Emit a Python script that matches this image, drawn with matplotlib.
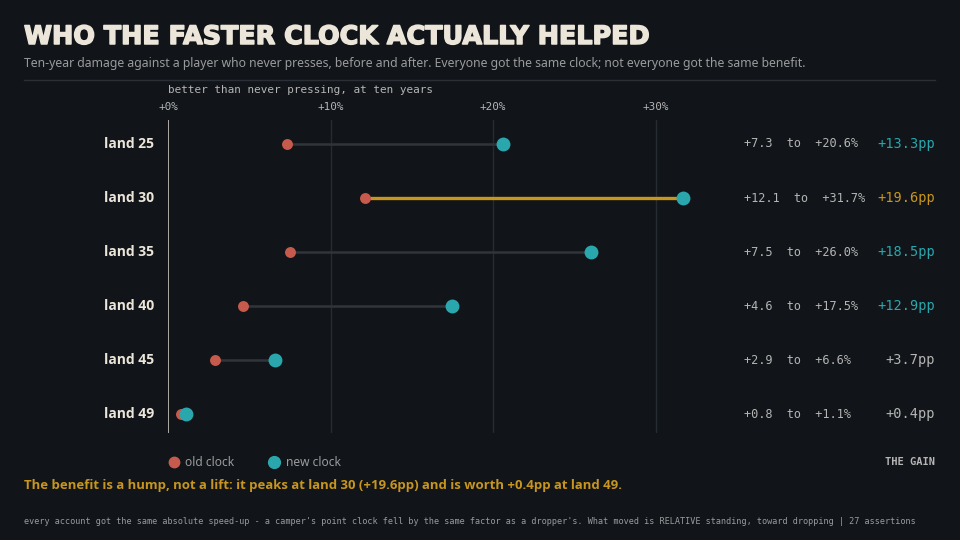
import matplotlib
matplotlib.use("Agg")
import matplotlib.pyplot as plt
from matplotlib.lines import Line2D
import matplotlib.patheffects as pe

# ---- data ----
lands = ["land 25", "land 30", "land 35", "land 40", "land 45", "land 49"]
old_clock = [7.3, 12.1, 7.5, 4.6, 2.9, 0.8]
new_clock = [20.6, 31.7, 26.0, 17.5, 6.6, 1.1]
gains = [13.3, 19.6, 18.5, 12.9, 3.7, 0.4]
x_ticks = [0, 10, 20, 30]
x_tick_labels = ["+0%", "+10%", "+20%", "+30%"]

BG = "#111418"
TITLE_C = "#ece6da"
SUB_C = "#9a9b9d"
GRID_C = "#262a31"
ZERO_C = "#c9c5be"
LINE_C = "#30353c"
RED = "#c65a4c"
TEAL = "#2aa7ad"
GOLD = "#c8961e"
TXT_C = "#b5b5b5"
MONO = ["DejaVu Sans Mono"]

W, H = 960, 540
fig = plt.figure(figsize=(9.6, 5.4), dpi=100, facecolor=BG)

def px(x, y):
    return x / W, 1 - y / H

# axes: x pixel 168 -> 0 ; 16.25 px per unit ; y rows at 144..414, step 54
ax_left, ax_top, ax_bottom = 168, 120, 433
xmax = 34
ax_w = xmax * 16.25
ax = fig.add_axes([ax_left / W, 1 - ax_bottom / H, ax_w / W, (ax_bottom - ax_top) / H])
ax.set_facecolor(BG)
ax.set_xlim(0, xmax)
ax.set_ylim(5 + 19 / 54, -24 / 54)
for s in ax.spines.values():
    s.set_visible(False)
ax.set_xticks([])
ax.set_yticks([])

for t in x_ticks:
    ax.axvline(t, color=ZERO_C if t == 0 else GRID_C, lw=1.2 if t == 0 else 1.0, zorder=1)

gmax = max(gains)
for i, (o, n, g) in enumerate(zip(old_clock, new_clock, gains)):
    hi = g == gmax
    ax.plot([o, n], [i, i], color=GOLD if hi else LINE_C, lw=2.4 if hi else 1.8,
            zorder=2, solid_capstyle="butt", clip_on=False)
ax.scatter(old_clock, range(len(lands)), s=62, color=RED, zorder=3, clip_on=False, linewidths=0)
ax.scatter(new_clock, range(len(lands)), s=100, color=TEAL, zorder=4, clip_on=False, linewidths=0)

# tick labels above
for t, lab in zip(x_ticks, x_tick_labels):
    ax.annotate(lab, xy=(t, 0), xycoords=("data", "figure fraction"),
                xytext=(0, 1 - 107 / H), textcoords=("offset points", "figure fraction"),
                ha="center", va="center", color=TXT_C, fontsize=7.9, family=MONO)
fig.text(*px(168, 90), "better than never pressing, at ten years", ha="left", va="center",
         color=TXT_C, fontsize=7.9, family=MONO)

# row labels and right side text
for i, lab in enumerate(lands):
    y = 144 + 54 * i
    fig.text(*px(154, y), lab, ha="right", va="center", color=TITLE_C,
             fontsize=10, fontweight="bold", family=["Open Sans", "DejaVu Sans"])
    fig.text(*px(744, y), f"+{old_clock[i]:.1f}  to  +{new_clock[i]:.1f}%", ha="left",
             va="center", color=TXT_C, fontsize=8.6, family=MONO)
    g = gains[i]
    c = GOLD if g == gmax else (TEAL if g >= 10 else TXT_C)
    fig.text(*px(935, y), f"+{g:.1f}pp", ha="right", va="center", color=c,
             fontsize=9.8, family=MONO)

# title / subtitle
fig.text(*px(24, 37), "WHO THE FASTER CLOCK ACTUALLY HELPED", ha="left", va="center",
         color=TITLE_C, fontsize=18.3, fontweight="bold", family=["DejaVu Sans"],
         path_effects=[pe.withStroke(linewidth=1.1, foreground=TITLE_C)])
fig.text(*px(24, 63), "Ten-year damage against a player who never presses, before and after. "
         "Everyone got the same clock; not everyone got the same benefit.",
         ha="left", va="center", color=SUB_C, fontsize=8.8, family=["Noto Sans", "DejaVu Sans"])
fig.add_artist(Line2D([24 / W, 935 / W], [1 - 80 / H, 1 - 80 / H], color="#2b2f36", lw=1))

# legend
fig.add_artist(Line2D([174 / W], [1 - 462 / H], marker="o", ms=7.5, color=RED, mec=RED, ls=""))
fig.text(*px(185, 462), "old clock", ha="left", va="center", color=SUB_C, fontsize=8.6,
         family=["Noto Sans", "DejaVu Sans"])
fig.add_artist(Line2D([274 / W], [1 - 462 / H], marker="o", ms=8.5, color=TEAL, mec=TEAL, ls=""))
fig.text(*px(286, 462), "new clock", ha="left", va="center", color=SUB_C, fontsize=8.6,
         family=["Noto Sans", "DejaVu Sans"])
fig.text(*px(935, 462), "THE GAIN", ha="right", va="center", color=TXT_C, fontsize=7.5,
         fontweight="bold", family=MONO)

# takeaway
peak_i = gains.index(gmax)
fig.text(*px(24, 485), f"The benefit is a hump, not a lift: it peaks at {lands[peak_i]} "
         f"(+{gmax:.1f}pp) and is worth +{gains[-1]:.1f}pp at {lands[-1]}.",
         ha="left", va="center", color=GOLD, fontsize=9.47, fontweight="bold",
         family=["Open Sans", "DejaVu Sans"])
fig.text(*px(24, 521), "every account got the same absolute speed-up - a camper's point clock fell "
         "by the same factor as a dropper's. What moved is RELATIVE standing, toward dropping | "
         "27 assertions", ha="left", va="center", color=SUB_C, fontsize=6.08, family=MONO)

fig.savefig("out.png", dpi=100, facecolor=BG)
